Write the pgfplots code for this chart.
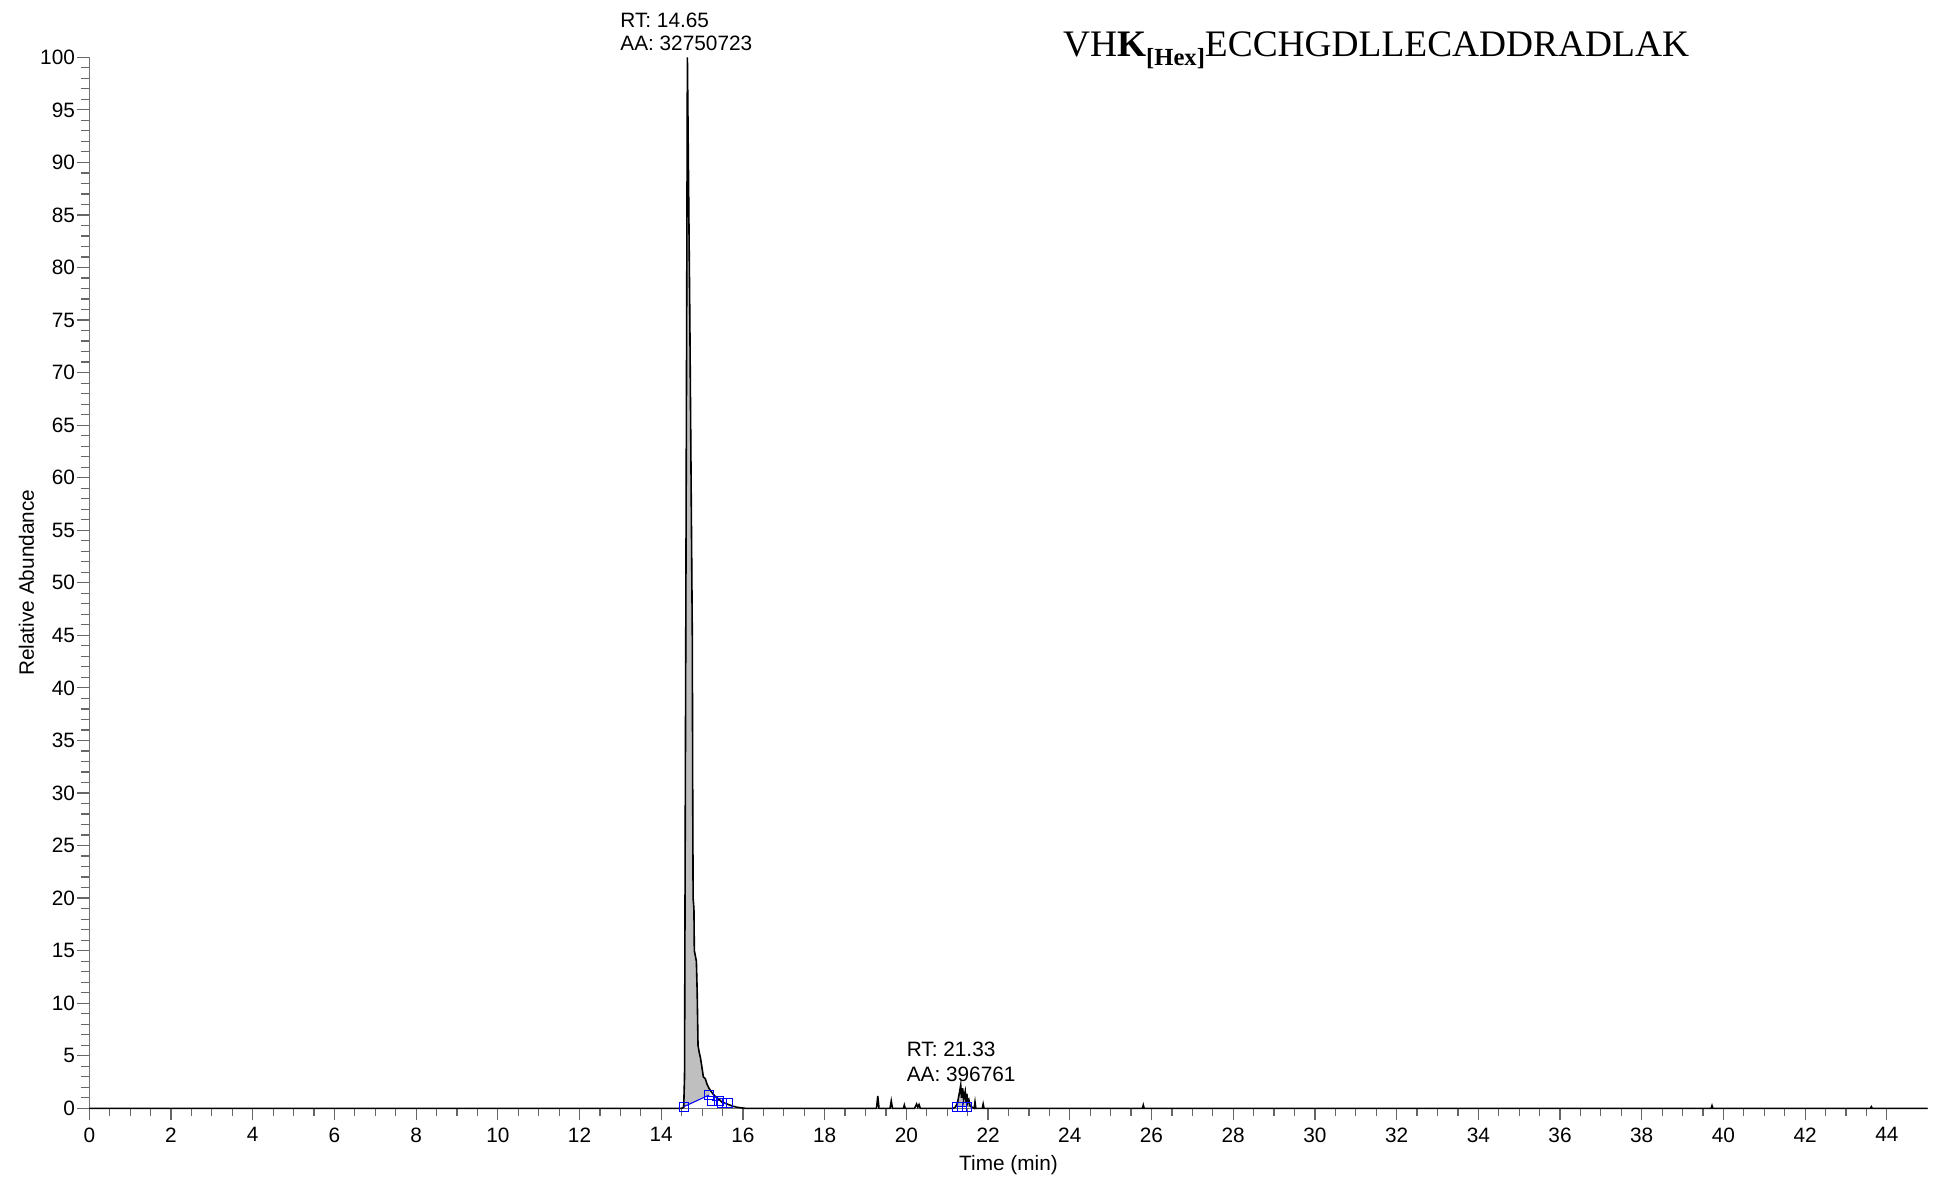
\documentclass[border=0pt]{standalone}
\usepackage{fontspec}
\setmainfont{Liberation Sans}
\newfontfamily\timesfont{Liberation Serif}
\usepackage{pgfplots}
\pgfplotsset{compat=1.18}
\begin{document}
\fontsize{10.4}{12.5}\selectfont
\begin{tikzpicture}
\useasboundingbox (-44.65pt,-37.35pt) rectangle (921.85pt,554.15pt);
\begin{axis}[
 at={(0,0)}, anchor=south west,
 scale only axis, width=919.2pt, height=525.5pt,
 xmin=0, xmax=45, ymin=0, ymax=100,
 axis x line*=bottom, axis y line*=left,
 axis line style={black!55, line width=0.6pt},
 xtick={0,2,...,44}, ytick={0,5,...,100},
 minor x tick num=3, minor y tick num=4,
 tick align=outside,
 major tick length=6pt, minor tick length=4pt,
 every tick/.style={black!60, line width=0.6pt},
 tick label style={font=\fontsize{10.4}{12}\selectfont},
 yticklabel style={inner sep=1pt},
 xlabel={Time (min)}, ylabel={Relative Abundance},
 xlabel style={at={(axis description cs:0.5,-0.054)}, anchor=center},
 ylabel style={at={(axis description cs:-0.03416,0.5)}, anchor=center},
 label style={font=\fontsize{10.4}{12}\selectfont},
 clip=false,
 /pgf/number format/assume math mode=true,
]
% integrated areas
\addplot[fill=black!25, draw=black!45, line width=0.3pt] coordinates {
(14.55,0.15)(14.57,3)(14.64,100)(14.70,75)(14.74,55)(14.76,45)(14.77,30)(14.78,20)(14.80,19)(14.81,15)(14.86,14)(14.88,11)(14.90,6)(14.93,5.3)(14.96,4.8)(15.00,3.8)(15.03,3.0)(15.08,2.8)(15.12,2.3)(15.17,1.9)(15.17,1.26)} -- cycle;
\addplot[fill=black!25, draw=black!45, line width=0.3pt] coordinates {
(21.25,0.15)(21.25,0.5)(21.30,1.5)(21.33,2.2)(21.35,1.0)(21.38,1.9)(21.40,0.8)(21.44,1.6)(21.46,0.6)(21.48,1.4)(21.50,0.5)(21.53,0.8)(21.53,0.15)} -- cycle;
% chromatogram trace
\addplot[black, line width=0.8pt] coordinates {
(0,0)(14.50,0)(14.55,0.1)(14.57,3)(14.64,100)(14.70,75)(14.74,55)(14.76,45)(14.77,30)(14.78,20)(14.80,19)(14.81,15)(14.86,14)(14.88,11)(14.90,6)(14.93,5.3)(14.96,4.8)(15.00,3.8)(15.03,3.0)(15.08,2.8)(15.12,2.3)(15.17,1.9)(15.22,1.6)(15.28,1.3)(15.33,1.1)(15.40,0.9)(15.48,0.6)(15.55,0.5)(15.65,0.35)(15.75,0.2)(15.85,0.1)(15.95,0.05)(16.05,0)
(19.27,0)(19.30,1.17)(19.33,0)(19.60,0)(19.63,0.7)(19.66,0)(19.93,0)(19.95,0.3)(19.97,0)(20.20,0)(20.25,0.4)(20.28,0.1)(20.31,0.35)(20.34,0)
(21.15,0)(21.20,0.1)(21.25,0.5)(21.30,1.5)(21.33,2.2)(21.35,1.0)(21.38,1.9)(21.40,0.8)(21.44,1.6)(21.46,0.6)(21.48,1.4)(21.50,0.5)(21.53,0.8)(21.56,0.2)(21.66,0)(21.68,0.6)(21.70,0)(21.86,0)(21.88,0.4)(21.90,0)
(25.78,0)(25.80,0.3)(25.82,0)(39.70,0)(39.72,0.25)(39.74,0)(43.60,0)(43.62,0.15)(43.64,0)(45,0)};
% integration baselines
\addplot[blue, line width=0.5pt, mark=square, mark size=2.3pt] coordinates {(14.55,0.15)(15.17,1.26)};
\addplot[blue, line width=0.5pt, mark=square, mark size=2.3pt] coordinates {(15.25,0.7)(15.42,0.7)};
\addplot[blue, line width=0.5pt, mark=square, mark size=2.3pt] coordinates {(15.48,0.5)(15.62,0.5)};
\addplot[blue, line width=0.5pt, mark=square, mark size=2.3pt] coordinates {(21.25,0.15)(21.37,0.15)(21.49,0.15)};
\node[anchor=base west, inner sep=0pt] at (axis cs:12.99,102.85) {RT: 14.65};
\node[anchor=base west, inner sep=0pt] at (axis cs:12.99,100.6) {AA: 32750723};
\node[anchor=base west, inner sep=0pt] at (axis cs:20.0,4.97) {RT: 21.33};
\node[anchor=base west, inner sep=0pt] at (axis cs:20.0,2.59) {AA: 396761};
\end{axis}
\node[anchor=base west, inner sep=0pt, font=\timesfont\fontsize{18.7}{18.7}\selectfont] at (486.7pt,525.8pt)
 {VH\textbf{K}\raisebox{-4.2pt}{\fontsize{12.3}{12.3}\selectfont\bfseries [Hex]}ECCHGDLLECADDRADLAK};
\end{tikzpicture}
\end{document}
